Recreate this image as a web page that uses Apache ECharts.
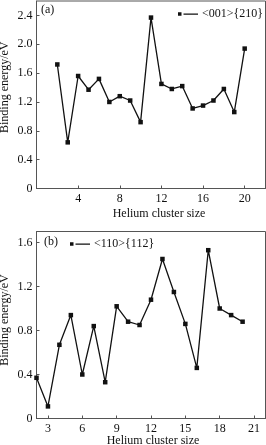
<!DOCTYPE html>
<html><head><meta charset="utf-8">
<script src="https://cdn.jsdelivr.net/npm/echarts@6/dist/echarts.min.js"></script>
<style>html,body{margin:0;padding:0;background:#fff}#c{width:266px;height:445px}</style>
</head><body><div id="c"></div>
<script>
const sizesA = [2,3,4,5,6,7,8,9,10,11,12,13,14,15,16,17,18,19,20];
const energyA = [1.72,0.64,1.56,1.37,1.52,1.20,1.28,1.22,0.92,2.37,1.45,1.38,1.42,1.11,1.15,1.22,1.38,1.06,1.94];
const sizesB = [2,3,4,5,6,7,8,9,10,11,12,13,14,15,16,17,18,19,20];
const energyB = [0.37,0.11,0.67,0.94,0.40,0.84,0.33,1.02,0.88,0.85,1.08,1.45,1.15,0.86,0.46,1.53,1.00,0.94,0.88];
const xTicksA = [0,4,8,12,16,20];
const xLabelsA = [4,8,12,16,20];
const yTicksA = [0,0.4,0.8,1.2,1.6,2.0,2.4];
const xTicksB = [3,6,9,12,15,18,21];
const yTicksB = [0,0.4,0.8,1.2,1.6];
const seriesNameA = '<001>{210}';
const seriesNameB = '<110>{112}';

const font = 'Liberation Serif';
const axisColor = '#555';
const fmt = v => v === 0 ? '0' : v.toFixed(1);
const chart = echarts.init(document.getElementById('c'));
const legendIcon = 'path://M0,0h3.5v3.5h-3.5z M5.5,1.2h14.5v1.2h-14.5z';
function xAxis(gi, min, max, ticks, labels, gap, shift) {
  return {type:'value', gridIndex:gi, min, max,
    name:'Helium cluster size', nameLocation:'middle', nameGap:gap, nameMoveOverlap:false,
    nameTextStyle:{fontFamily:font, fontSize:12, color:'#111', padding:[0,0,0,shift]},
    axisLine:{onZero:false, lineStyle:{color:axisColor, width:1}},
    axisTick:{inside:true, length:3, customValues:ticks, lineStyle:{color:axisColor}},
    axisLabel:{customValues:labels, margin:4, fontFamily:font, fontSize:12, color:'#111'},
    splitLine:{show:false}};
}
function yAxis(gi, min, max, ticks, shift) {
  return {type:'value', gridIndex:gi, min, max,
    name:'Binding energy/eV', nameLocation:'middle', nameGap:26, nameRotate:90, nameMoveOverlap:false,
    nameTextStyle:{fontFamily:font, fontSize:12, color:'#111', padding:[0,0,0,shift]},
    axisLine:{show:true, lineStyle:{color:axisColor, width:1}},
    axisTick:{inside:true, length:3, customValues:ticks, lineStyle:{color:axisColor}},
    axisLabel:{customValues:ticks, formatter:fmt, margin:4, fontFamily:font, fontSize:12, color:'#111'},
    splitLine:{show:false}};
}
chart.setOption({
  animation:false,
  grid:[
    {left:36.5, right:0.5, top:1, height:187.5, show:true, borderColor:axisColor, borderWidth:1, outerBoundsMode:'none', containLabel:false},
    {left:36.5, right:0.5, top:231.5, height:187, show:true, borderColor:axisColor, borderWidth:1, outerBoundsMode:'none', containLabel:false}
  ],
  xAxis:[xAxis(0,0,22,xTicksA,xLabelsA,19,16), xAxis(1,2,22,xTicksB,xTicksB,16,4)],
  yAxis:[yAxis(0,0,2.6,yTicksA,15), yAxis(1,0,1.7,yTicksB,10)],
  legend:[
    {data:[{name:seriesNameA, icon:legendIcon}], left:173, top:3, itemWidth:20, itemHeight:3.5, itemGap:0,
     textStyle:{fontFamily:font, fontSize:12, color:'#111', padding:[0,0,0,-1]}},
    {data:[{name:seriesNameB, icon:legendIcon}], left:65, top:233, itemWidth:20, itemHeight:3.5, itemGap:0,
     textStyle:{fontFamily:font, fontSize:12, color:'#111', padding:[0,0,0,-1]}}
  ],
  graphic:[
    {type:'text', left:41, top:4, style:{text:'(a)', font:'12px "Liberation Serif"', fill:'#111'}},
    {type:'text', left:44, top:236, style:{text:'(b)', font:'12px "Liberation Serif"', fill:'#111'}}
  ],
  series:[
    {name:seriesNameA, type:'line', xAxisIndex:0, yAxisIndex:0,
     data:sizesA.map((s,i)=>[s,energyA[i]]), symbol:'rect', symbolSize:4.5,
     lineStyle:{color:'#111', width:1.3}, itemStyle:{color:'#111'}},
    {name:seriesNameB, type:'line', xAxisIndex:1, yAxisIndex:1,
     data:sizesB.map((s,i)=>[s,energyB[i]]), symbol:'rect', symbolSize:4.5,
     lineStyle:{color:'#111', width:1.3}, itemStyle:{color:'#111'}}
  ]
});
</script></body></html>
